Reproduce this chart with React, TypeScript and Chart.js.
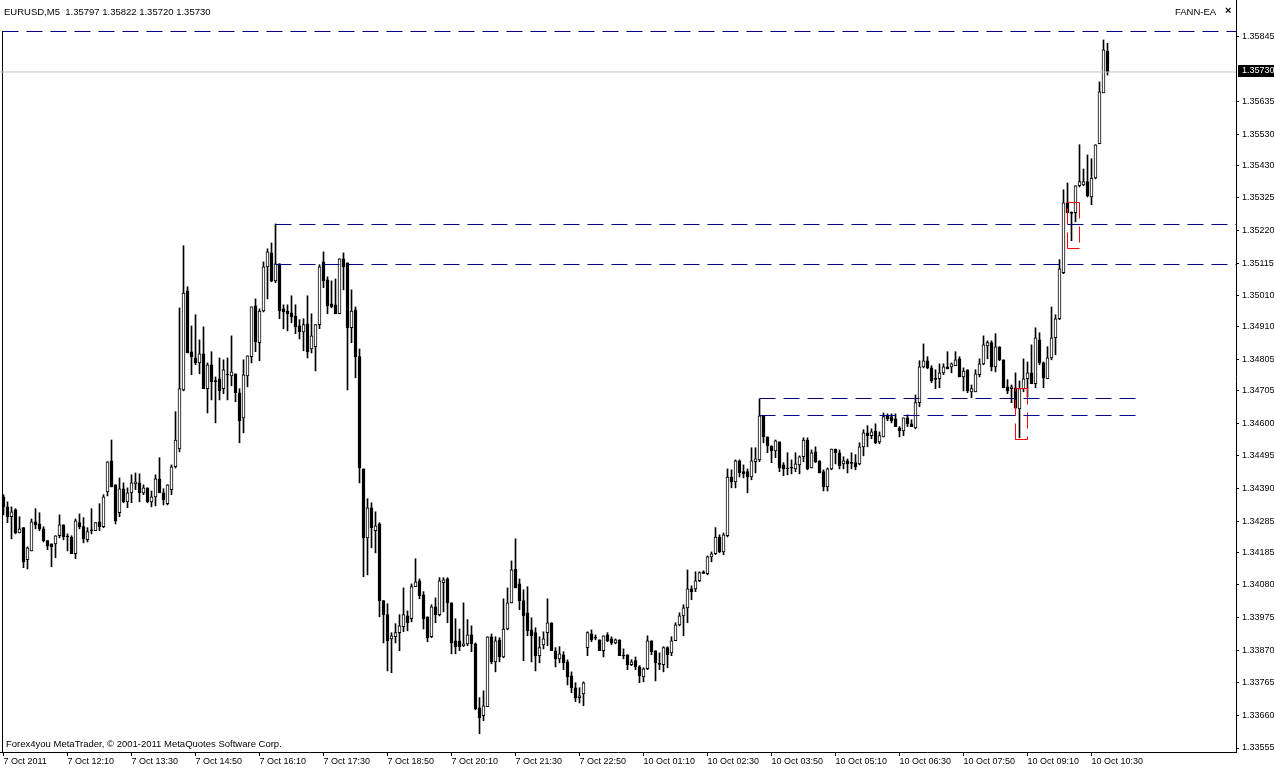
import React, { useEffect, useRef } from "react";
import { Chart, registerables } from "chart.js";

Chart.register(...registerables);

// EURUSD M5 candles, bar 0 = 7 Oct 2011 10:50
const opens = [
  1.34363, 1.34331, 1.34299, 1.34321, 1.34247, 1.34264, 1.34161, 1.34189, 1.34283, 1.34276,
  1.3426, 1.34222, 1.34212, 1.34212, 1.34238, 1.34273, 1.34238, 1.34234, 1.3418, 1.3428,
  1.34267, 1.34225, 1.34257, 1.34254, 1.34283, 1.34267, 1.34379, 1.34479, 1.34402, 1.34312,
  1.34389, 1.34347, 1.34376, 1.34405, 1.34408, 1.34376, 1.34392, 1.34347, 1.34363, 1.34421,
  1.34376, 1.34341, 1.34386, 1.3446, 1.34517, 1.34707, 1.35026, 1.3483, 1.3481, 1.34794,
  1.34823, 1.34711, 1.34788, 1.34736, 1.34743, 1.34711, 1.34756, 1.34752, 1.34759, 1.34698,
  1.34617, 1.34752, 1.34814, 1.34978, 1.34859, 1.34961, 1.35103, 1.35148, 1.35058, 1.35113,
  1.34968, 1.34961, 1.34955, 1.34945, 1.34913, 1.34894, 1.3492, 1.34839, 1.34846, 1.34917,
  1.35119, 1.35061, 1.34984, 1.34981, 1.34952, 1.35129, 1.35116, 1.34907, 1.34965, 1.34814,
  1.34453, 1.34231, 1.34328, 1.34254, 1.34276, 1.34029, 1.33984, 1.33906, 1.33913, 1.33926,
  1.33945, 1.3398, 1.33971, 1.34074, 1.34093, 1.34048, 1.33977, 1.33913, 1.34009, 1.33984,
  1.34087, 1.34099, 1.34022, 1.339, 1.339, 1.33884, 1.3389, 1.33919, 1.3389, 1.33684,
  1.33659, 1.33688, 1.33913, 1.33832, 1.33903, 1.33848, 1.33938, 1.34022, 1.34131, 1.34083,
  1.34029, 1.3399, 1.33935, 1.33926, 1.33852, 1.33887, 1.33926, 1.33958, 1.33868, 1.33842,
  1.33855, 1.33832, 1.33787, 1.33749, 1.33717, 1.33729, 1.33878, 1.33922, 1.3391, 1.33903,
  1.33868, 1.33919, 1.33906, 1.33893, 1.33903, 1.33852, 1.33855, 1.33823, 1.33836, 1.33816,
  1.33784, 1.3381, 1.339, 1.33868, 1.33826, 1.33823, 1.33878, 1.33861, 1.339, 1.33951,
  1.3398, 1.34006, 1.34067, 1.34067, 1.34093, 1.34122, 1.34116, 1.3417, 1.3418, 1.34234,
  1.34186, 1.34238, 1.34427, 1.34411, 1.34479, 1.34444, 1.34444, 1.34427, 1.34476, 1.34482,
  1.34624, 1.34556, 1.34527, 1.34511, 1.3454, 1.34466, 1.34456, 1.34456, 1.34453, 1.34466,
  1.34492, 1.34546, 1.34456, 1.34508, 1.34479, 1.34444, 1.34395, 1.34453, 1.34517, 1.34505,
  1.34469, 1.34479, 1.34473, 1.34473, 1.34469, 1.34524, 1.34569, 1.3456, 1.34575, 1.3454,
  1.34556, 1.34624, 1.34621, 1.34614, 1.34585, 1.34575, 1.34617, 1.34598, 1.34585, 1.34666,
  1.34781, 1.34801, 1.34778, 1.34743, 1.34743, 1.34762, 1.34781, 1.34781, 1.34785, 1.34807,
  1.34749, 1.34772, 1.34701, 1.34701, 1.34756, 1.34791, 1.34849, 1.34859, 1.34781, 1.34846,
  1.34804, 1.34717, 1.34711, 1.34714, 1.34646, 1.34711, 1.34743, 1.34762, 1.34727, 1.34868,
  1.34794, 1.34743, 1.3481, 1.34875, 1.34936, 1.35084, 1.35309, 1.35277, 1.35277, 1.35364,
  1.35367, 1.35377, 1.35328, 1.35389, 1.35499, 1.35663, 1.35797,
];

const highs = [
  1.3437, 1.34347, 1.34331, 1.34325, 1.34299, 1.34264, 1.34202, 1.34292, 1.34325, 1.34312,
  1.34267, 1.34222, 1.34212, 1.34238, 1.34305, 1.34273, 1.34244, 1.34238, 1.34292, 1.34308,
  1.34296, 1.34264, 1.34325, 1.3428, 1.34341, 1.3437, 1.34476, 1.34546, 1.34402, 1.34424,
  1.34408, 1.34392, 1.34434, 1.3444, 1.34437, 1.34402, 1.34392, 1.34382, 1.34434, 1.34489,
  1.34389, 1.34402, 1.34466, 1.34637, 1.34971, 1.35171, 1.35039, 1.34913, 1.34949, 1.34868,
  1.3491, 1.34794, 1.3483, 1.34749, 1.3481, 1.34804, 1.3481, 1.34881, 1.34759, 1.34711,
  1.34804, 1.34817, 1.34974, 1.35, 1.34968, 1.35119, 1.35161, 1.3518, 1.35241, 1.35113,
  1.34981, 1.34981, 1.3501, 1.34981, 1.34933, 1.34936, 1.3501, 1.34952, 1.34917, 1.3511,
  1.35151, 1.35071, 1.35058, 1.35064, 1.35129, 1.35148, 1.35116, 1.35029, 1.34974, 1.34839,
  1.34453, 1.34357, 1.34344, 1.34315, 1.3428, 1.34029, 1.34019, 1.33926, 1.33955, 1.33984,
  1.3407, 1.33996, 1.34083, 1.34164, 1.34099, 1.34058, 1.33977, 1.34016, 1.34038, 1.34103,
  1.34103, 1.34103, 1.34022, 1.33971, 1.33938, 1.34022, 1.33968, 1.33948, 1.33893, 1.33717,
  1.33739, 1.33913, 1.33922, 1.33913, 1.3391, 1.34035, 1.3407, 1.34157, 1.34228, 1.34099,
  1.34064, 1.34074, 1.33974, 1.33942, 1.33913, 1.33929, 1.34035, 1.33958, 1.33878, 1.33881,
  1.33865, 1.33839, 1.338, 1.33765, 1.33749, 1.33768, 1.33929, 1.33935, 1.33919, 1.33903,
  1.33916, 1.33926, 1.33913, 1.33906, 1.33903, 1.33874, 1.33855, 1.33839, 1.33848, 1.3382,
  1.33813, 1.33916, 1.339, 1.33868, 1.33861, 1.33881, 1.33881, 1.33913, 1.33958, 1.3399,
  1.34016, 1.34128, 1.34077, 1.34122, 1.34122, 1.34125, 1.34173, 1.34186, 1.34264, 1.34241,
  1.34247, 1.34453, 1.3445, 1.34482, 1.34482, 1.34466, 1.34453, 1.34521, 1.34521, 1.34678,
  1.34624, 1.34556, 1.34527, 1.34546, 1.3454, 1.34473, 1.34505, 1.34482, 1.34505, 1.34495,
  1.34553, 1.34553, 1.34514, 1.34524, 1.34479, 1.3445, 1.34456, 1.34517, 1.34517, 1.34514,
  1.34492, 1.34485, 1.34505, 1.34499, 1.34537, 1.34579, 1.34592, 1.34582, 1.34598, 1.34572,
  1.34633, 1.3463, 1.3463, 1.3463, 1.34589, 1.34617, 1.34627, 1.34611, 1.34691, 1.34801,
  1.34855, 1.34814, 1.34785, 1.34772, 1.34791, 1.34791, 1.3483, 1.34794, 1.3483, 1.34814,
  1.34778, 1.34772, 1.34723, 1.34772, 1.34807, 1.34881, 1.34865, 1.34865, 1.34888, 1.34846,
  1.34804, 1.3474, 1.34723, 1.34762, 1.34736, 1.34807, 1.34797, 1.34852, 1.34907, 1.34891,
  1.34797, 1.34846, 1.34974, 1.34949, 1.35126, 1.35351, 1.35373, 1.3528, 1.35364, 1.35496,
  1.35418, 1.35463, 1.35451, 1.35496, 1.35698, 1.35833, 1.35822,
];

const lows = [
  1.34305, 1.3428, 1.34228, 1.34244, 1.34247, 1.34135, 1.34131, 1.34189, 1.3426, 1.34254,
  1.34218, 1.34193, 1.34138, 1.34167, 1.34231, 1.34225, 1.34189, 1.3418, 1.34164, 1.3426,
  1.34215, 1.34218, 1.34244, 1.34254, 1.34254, 1.34264, 1.34366, 1.34395, 1.34276, 1.34299,
  1.34344, 1.34328, 1.34344, 1.34386, 1.34347, 1.3437, 1.34344, 1.34331, 1.34334, 1.34376,
  1.34337, 1.34337, 1.3437, 1.34456, 1.34508, 1.34704, 1.34826, 1.34756, 1.34788, 1.34759,
  1.34711, 1.34633, 1.34675, 1.34601, 1.34675, 1.34695, 1.34675, 1.3472, 1.34669, 1.34537,
  1.34569, 1.34717, 1.34794, 1.3483, 1.34801, 1.34958, 1.35, 1.35055, 1.35052, 1.34936,
  1.34904, 1.34897, 1.34923, 1.34888, 1.34871, 1.34833, 1.3481, 1.34826, 1.34768, 1.34904,
  1.35036, 1.34952, 1.34971, 1.34952, 1.34952, 1.35029, 1.34707, 1.34859, 1.34746, 1.34408,
  1.34106, 1.34112, 1.34199, 1.34183, 1.33977, 1.33893, 1.33803, 1.33797, 1.33893, 1.33868,
  1.33929, 1.33932, 1.33961, 1.34074, 1.34035, 1.33938, 1.33897, 1.3391, 1.33958, 1.3398,
  1.33993, 1.33958, 1.33858, 1.33858, 1.33868, 1.33881, 1.33884, 1.33865, 1.33678, 1.33601,
  1.33643, 1.33688, 1.33826, 1.338, 1.33832, 1.33845, 1.33935, 1.34022, 1.3407, 1.34,
  1.33836, 1.33916, 1.33832, 1.33803, 1.33829, 1.33874, 1.33884, 1.33868, 1.33816, 1.33829,
  1.33807, 1.33758, 1.33733, 1.33704, 1.337, 1.33691, 1.33852, 1.33897, 1.33903, 1.33868,
  1.33848, 1.33897, 1.33887, 1.3389, 1.33852, 1.33842, 1.33807, 1.3382, 1.33807, 1.33765,
  1.33768, 1.33807, 1.33855, 1.33771, 1.33807, 1.338, 1.33813, 1.33852, 1.339, 1.33948,
  1.33916, 1.33958, 1.34032, 1.34058, 1.3409, 1.34116, 1.34112, 1.34154, 1.34177, 1.34183,
  1.34177, 1.34234, 1.34392, 1.34392, 1.34427, 1.34424, 1.34376, 1.34418, 1.3444, 1.34476,
  1.34537, 1.34505, 1.34473, 1.34489, 1.34444, 1.34431, 1.34434, 1.34437, 1.34444, 1.34437,
  1.34476, 1.3445, 1.34456, 1.34473, 1.3444, 1.34382, 1.34382, 1.3445, 1.34469, 1.34453,
  1.34453, 1.3444, 1.34453, 1.3445, 1.34466, 1.34495, 1.34524, 1.3455, 1.34534, 1.34534,
  1.34556, 1.34608, 1.34601, 1.34589, 1.34556, 1.3456, 1.34589, 1.34589, 1.34582, 1.34653,
  1.34778, 1.34775, 1.3473, 1.34711, 1.34714, 1.34756, 1.34775, 1.34762, 1.34785, 1.34749,
  1.34704, 1.34698, 1.34682, 1.34701, 1.34749, 1.34788, 1.34807, 1.34768, 1.34765, 1.34801,
  1.34714, 1.34695, 1.34666, 1.34646, 1.34553, 1.34701, 1.34685, 1.34727, 1.34714, 1.34788,
  1.34714, 1.34743, 1.34804, 1.3482, 1.34933, 1.35081, 1.35277, 1.35187, 1.35248, 1.3536,
  1.35364, 1.35328, 1.35303, 1.35386, 1.35499, 1.35663, 1.3572,
];

const closes = [
  1.34331, 1.34299, 1.34315, 1.34247, 1.3426, 1.34154, 1.34199, 1.34283, 1.34273, 1.3426,
  1.34222, 1.34205, 1.34202, 1.34238, 1.34273, 1.34234, 1.34234, 1.3418, 1.34286, 1.34267,
  1.34228, 1.34251, 1.34254, 1.3428, 1.34267, 1.34363, 1.34476, 1.34395, 1.34286, 1.34389,
  1.34347, 1.34376, 1.34408, 1.34411, 1.34376, 1.34392, 1.34347, 1.34363, 1.34421, 1.34376,
  1.34353, 1.34402, 1.3446, 1.34546, 1.34711, 1.35019, 1.34826, 1.34814, 1.34794, 1.34823,
  1.34711, 1.34788, 1.34733, 1.34734, 1.34704, 1.34772, 1.34755, 1.34765, 1.34698, 1.34608,
  1.34756, 1.34817, 1.34974, 1.34862, 1.34961, 1.35103, 1.35151, 1.35058, 1.35113, 1.34961,
  1.34958, 1.34952, 1.34942, 1.3491, 1.34894, 1.34917, 1.3483, 1.34881, 1.34917, 1.35103,
  1.35058, 1.34978, 1.34974, 1.34952, 1.35129, 1.35103, 1.34907, 1.34961, 1.34814, 1.34456,
  1.34231, 1.34328, 1.34264, 1.3427, 1.34029, 1.33984, 1.339, 1.33916, 1.33926, 1.33948,
  1.33984, 1.33958, 1.34074, 1.3409, 1.34045, 1.33971, 1.3391, 1.34009, 1.33984, 1.34093,
  1.34096, 1.34022, 1.33893, 1.33881, 1.33881, 1.3389, 1.33919, 1.3389, 1.33681, 1.33652,
  1.33691, 1.33913, 1.33832, 1.339, 1.33848, 1.33938, 1.34022, 1.34128, 1.3407, 1.34029,
  1.3398, 1.33932, 1.33916, 1.33852, 1.33878, 1.33906, 1.33958, 1.33868, 1.33842, 1.33858,
  1.33829, 1.33784, 1.33749, 1.33717, 1.33723, 1.33765, 1.33926, 1.33903, 1.33909, 1.33868,
  1.33916, 1.339, 1.33893, 1.33903, 1.33852, 1.33851, 1.33823, 1.33832, 1.33816, 1.33787,
  1.3381, 1.339, 1.33865, 1.33829, 1.33824, 1.33878, 1.33855, 1.339, 1.33951, 1.3398,
  1.34006, 1.34067, 1.34058, 1.34093, 1.34119, 1.34117, 1.3417, 1.3418, 1.34234, 1.34186,
  1.34241, 1.34427, 1.34411, 1.34479, 1.3444, 1.34437, 1.34427, 1.34479, 1.34485, 1.34624,
  1.34556, 1.34527, 1.34511, 1.34543, 1.34456, 1.34453, 1.34453, 1.34455, 1.34469, 1.34492,
  1.34546, 1.34453, 1.34505, 1.34476, 1.3444, 1.34395, 1.34453, 1.34517, 1.34505, 1.34463,
  1.34479, 1.34469, 1.34471, 1.3446, 1.34524, 1.34569, 1.3456, 1.34572, 1.34537, 1.3456,
  1.34621, 1.34614, 1.34608, 1.34589, 1.34575, 1.34617, 1.34598, 1.34589, 1.34666, 1.34781,
  1.34801, 1.34778, 1.34736, 1.34741, 1.34762, 1.34781, 1.34775, 1.34791, 1.34804, 1.34749,
  1.34768, 1.34704, 1.34711, 1.34759, 1.34791, 1.34852, 1.34859, 1.34781, 1.34846, 1.34804,
  1.34714, 1.34704, 1.34717, 1.3465, 1.34711, 1.34743, 1.34762, 1.34727, 1.34875, 1.34794,
  1.34746, 1.3481, 1.34875, 1.34936, 1.35097, 1.35309, 1.35277, 1.35275, 1.35364, 1.35377,
  1.35377, 1.35332, 1.35389, 1.35496, 1.35666, 1.35801, 1.3573,
];

const timeTickBars = [0, 16, 32, 48, 64, 80, 96, 112, 128, 144, 160, 176, 192, 208, 224, 240, 256, 272];
const timeTickLabels = [
  "7 Oct 2011", "7 Oct 12:10", "7 Oct 13:30", "7 Oct 14:50", "7 Oct 16:10", "7 Oct 17:30",
  "7 Oct 18:50", "7 Oct 20:10", "7 Oct 21:30", "7 Oct 22:50", "10 Oct 01:10", "10 Oct 02:30",
  "10 Oct 03:50", "10 Oct 05:10", "10 Oct 06:30", "10 Oct 07:50", "10 Oct 09:10", "10 Oct 10:30",
];

const priceTicks = [
  1.35845, 1.35635, 1.3553, 1.3543, 1.35325, 1.3522, 1.35115, 1.3501, 1.3491, 1.34805, 1.34705,
  1.346, 1.34495, 1.3439, 1.34285, 1.34185, 1.3408, 1.33975, 1.3387, 1.33765, 1.3366, 1.33555,
];

const bidPrice = 1.3573;

// Expert-advisor level lines
const levelPrices = [1.358602, 1.352393, 1.351106, 1.346795, 1.346248];
const levelFromBars = [-0.25, 68, 68, 189, 189];
const levelToBars = [308.125, 308.125, 308.125, 283, 283];

// Signal boxes
const boxFromBars = [266, 253];
const boxToBars = [269, 256];
const boxTopPrices = [1.353101, 1.347116];
const boxBottomPrices = [1.351621, 1.345476];

const X_MIN = -0.875;
const X_MAX = 308.125;
const Y_MIN = 1.3354215;
const Y_MAX = 1.3596156;

const FONT = "'Liberation Sans', Arial, sans-serif";
const NAVY = "#00008b";

export default function App() {
  const canvasRef = useRef<HTMLCanvasElement | null>(null);

  useEffect(() => {
    const canvas = canvasRef.current;
    if (!canvas) return;

    const bodies = opens.map((o, i) => ({ x: i, y: [Math.min(o, closes[i]), Math.max(o, closes[i])] }));
    const wicks = opens.map((_, i) => ({ x: i, y: [lows[i], highs[i]] }));
    const bodyFill = opens.map((o, i) => (closes[i] >= o ? "#ffffff" : "#000000"));

    const lineDs = (pts: { x: number; y: number }[], color: string, dash: number[]) => ({
      type: "line" as const,
      data: pts,
      borderColor: color,
      borderWidth: 1,
      borderDash: dash,
      pointRadius: 0,
      fill: false,
      tension: 0,
      order: 0,
    });

    const levelSets = levelPrices.map((p, k) =>
      lineDs(
        [
          { x: levelFromBars[k], y: p },
          { x: levelToBars[k], y: p },
        ],
        NAVY,
        [16, 8]
      )
    );

    // vertical edge at the start of the top level line
    const leftEdge = lineDs(
      [
        { x: levelFromBars[0], y: levelPrices[0] },
        { x: levelFromBars[0], y: Y_MIN },
      ],
      "#000000",
      []
    );

    const boxSets: any[] = [];
    boxFromBars.forEach((b0, k) => {
      const b1 = boxToBars[k];
      const t = boxTopPrices[k];
      const bt = boxBottomPrices[k];
      const sides = [
        [{ x: b0, y: t }, { x: b1, y: t }],
        [{ x: b1, y: t }, { x: b1, y: bt }],
        [{ x: b1, y: bt }, { x: b0, y: bt }],
        [{ x: b0, y: bt }, { x: b0, y: t }],
      ];
      sides.forEach((s) => boxSets.push(lineDs(s, "#ff0000", [16, 8])));
    });

    const bidLine = lineDs(
      [
        { x: X_MIN, y: bidPrice },
        { x: X_MAX, y: bidPrice },
      ],
      "#c0c0c0",
      []
    );

    const bidBox = {
      id: "bidBox",
      afterDraw(chart: any) {
        const ctx = chart.ctx;
        const y = Math.round(chart.scales.y.getPixelForValue(bidPrice));
        const x0 = chart.chartArea.right + 2;
        ctx.save();
        ctx.fillStyle = "#000000";
        ctx.fillRect(x0, y - 7, chart.width - x0, 12);
        ctx.fillStyle = "#ffffff";
        ctx.font = `9px ${FONT}`;
        ctx.textBaseline = "middle";
        ctx.textAlign = "left";
        ctx.fillText(bidPrice.toFixed(5), x0 + 4, y - 1);
        ctx.restore();
      },
    };

    const chart = new Chart(canvas, {
      type: "bar",
      data: {
        datasets: [
          {
            type: "bar",
            data: bodies as any,
            backgroundColor: bodyFill,
            borderColor: "#000000",
            borderWidth: 1,
            borderSkipped: false,
            barThickness: 3,
            grouped: false,
            minBarLength: 1,
            order: 1,
          } as any,
          {
            type: "bar",
            data: wicks as any,
            backgroundColor: "#000000",
            borderWidth: 0,
            barThickness: 1,
            grouped: false,
            order: 2,
          } as any,
          bidLine as any,
          leftEdge as any,
          ...(levelSets as any[]),
          ...boxSets,
        ],
      },
      options: {
        animation: false,
        responsive: true,
        maintainAspectRatio: false,
        events: [],
        layout: { padding: 0 },
        plugins: {
          legend: { display: false },
          tooltip: { enabled: false },
          title: { display: false },
        },
        scales: {
          x: {
            type: "linear",
            min: X_MIN,
            max: X_MAX,
            offset: false,
            bounds: "data",
            afterBuildTicks: (s: any) => {
              s.ticks = timeTickBars.map((v) => ({ value: v }));
            },
            afterFit: (s: any) => {
              s.height = 17;
              s.paddingLeft = 0;
              s.paddingRight = 0;
            },
            ticks: {
              autoSkip: false,
              maxRotation: 0,
              minRotation: 0,
              align: "start",
              padding: 0,
              color: "#000000",
              font: { family: FONT, size: 9 },
              callback: (_v: any, idx: number) => timeTickLabels[idx],
            },
            grid: { drawOnChartArea: false, drawTicks: true, tickLength: 4, color: "#000000", offset: false },
            border: { display: true, color: "#000000", width: 1 },
          },
          y: {
            type: "linear",
            position: "right",
            min: Y_MIN,
            max: Y_MAX,
            bounds: "data",
            afterBuildTicks: (s: any) => {
              s.ticks = priceTicks.map((v) => ({ value: v }));
            },
            afterFit: (s: any) => {
              s.width = 38;
              s.paddingTop = 0;
              s.paddingBottom = 0;
            },
            ticks: {
              autoSkip: false,
              padding: 3,
              color: "#000000",
              font: { family: FONT, size: 9 },
              callback: (v: any) => Number(v).toFixed(5),
            },
            grid: { drawOnChartArea: false, drawTicks: true, tickLength: 3, color: "#000000" },
            border: { display: true, color: "#000000", width: 1 },
          },
        },
      } as any,
      plugins: [bidBox],
    });

    return () => chart.destroy();
  }, []);

  const textStyle: React.CSSProperties = {
    position: "absolute",
    fontFamily: FONT,
    fontSize: 9,
    color: "#000",
    whiteSpace: "pre",
    lineHeight: "11px",
    pointerEvents: "none",
  };

  return (
    <div
      style={{
        position: "fixed",
        left: 0,
        top: 0,
        width: 1274,
        height: 769,
        background: "#ffffff",
        overflow: "hidden",
      }}
    >
      <canvas ref={canvasRef} />
      <div style={{ ...textStyle, left: 4, top: 6, fontSize: 9.5 }}>{"EURUSD,M5  1.35797 1.35822 1.35720 1.35730"}</div>
      <div style={{ ...textStyle, left: 1175, top: 6, fontSize: 9.5 }}>FANN-EA</div>
      <div style={{ ...textStyle, left: 1225, top: 5, fontWeight: "bold", fontSize: 11 }}>×</div>
      <div style={{ ...textStyle, left: 6, top: 738, fontSize: 9.5 }}>
        {"Forex4you MetaTrader, © 2001-2011 MetaQuotes Software Corp."}
      </div>
    </div>
  );
}
